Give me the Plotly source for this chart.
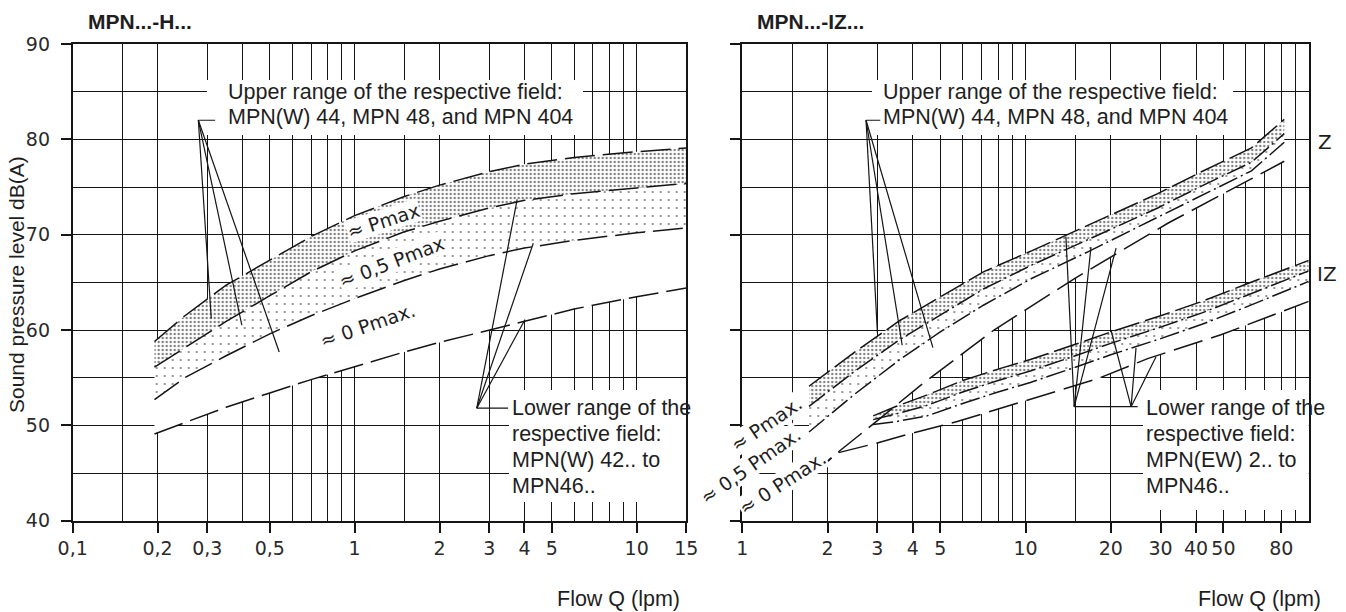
import numpy as np
import plotly.graph_objects as go

W, H = 1346, 612

# ---------------- data ----------------
# Left panel: MPN...-H...   (flow in lpm, sound level in dB(A))
q_h = [0.195, 0.25, 0.35, 0.5, 0.7, 1, 1.5, 2, 3, 4, 6, 10, 15]
h_pmax_top = [58.8, 61.5, 64.7, 67.3, 69.8, 72.0, 74.0, 75.2, 76.6, 77.4, 78.1, 78.7, 79.1]
h_pmax_low = [56.1, 58.1, 60.9, 63.6, 66.1, 68.3, 70.3, 71.4, 72.8, 73.6, 74.3, 74.9, 75.4]
h_half_low = [52.7, 55.0, 57.3, 59.6, 61.5, 63.3, 65.2, 66.4, 67.8, 68.6, 69.4, 70.2, 70.7]
h_zero_low = [49.1, 50.3, 51.9, 53.4, 54.8, 56.15, 57.7, 58.7, 60.0, 60.9, 62.2, 63.5, 64.4]

# Right panel: MPN...-IZ...  -> Z group
q_z = [1.72, 2.5, 3.6, 5, 7.1, 10.5, 16.6, 29.3, 41.8, 62.8, 82]
z_pmax_top = [54.1, 57.7, 61.0, 63.5, 66.1, 68.3, 71.0, 74.3, 76.6, 79.1, 82.1]
z_pmax_low = [52.0, 55.7, 59.0, 61.6, 64.3, 66.8, 69.5, 72.8, 75.1, 77.6, 80.6]
z_half_low = [49.3, 53.3, 56.9, 59.8, 62.6, 65.4, 68.2, 71.8, 74.1, 76.7, 79.7]
q_z0 = [1.72, 2.16, 3.0, 4.26, 7.74, 10, 14.9, 31.8, 64.5, 82]
z_zero_low = [44.5, 47.1, 50.5, 54.2, 60.0, 62.1, 65.4, 71.2, 76.1, 77.7]

# Right panel -> IZ group
q_iz = [2.9, 3.5, 4.5, 6, 8, 10.4, 15, 20, 30, 42, 60, 100]
iz_pmax_top = [51.0, 52.0, 53.2, 54.7, 55.9, 56.9, 58.5, 59.8, 61.5, 63.0, 64.8, 67.3]
iz_pmax_low = [50.6, 51.2, 52.1, 53.5, 54.7, 55.7, 57.3, 58.6, 60.3, 61.8, 63.6, 66.2]
iz_half_low = [50.1, 50.4, 51.0, 52.3, 53.5, 54.5, 56.1, 57.4, 59.1, 60.6, 62.4, 65.1]
q_iz0 = [1.72, 2.16, 2.95, 4.0, 5.74, 8.87, 10.4, 18, 27, 49, 100]
iz_zero_low = [44.5, 47.1, 48.1, 49.2, 50.4, 52.1, 52.7, 54.9, 57.0, 59.5, 63.0]

# leader lines (origin -> tips), data coordinates
lead_hu_origin = (0.279, 82.0); lead_hu_stub = 0.32
lead_hu_tips_q = [0.310, 0.398, 0.540]; lead_hu_tips_db = [61.2, 60.5, 57.7]
lead_hl_origin = (2.71, 51.8); lead_hl_stub = 3.50
lead_hl_tips_q = [3.77, 4.30, 4.02]; lead_hl_tips_db = [73.7, 69.1, 61.1]
lead_zu_origin = (2.735, 82.0); lead_zu_stub = 3.07
lead_zu_tips_q = [3.0, 3.67, 4.71]; lead_zu_tips_db = [59.7, 58.4, 58.15]
lead_zl_origin = (14.86, 51.96); lead_zl_stub = 24.9
lead_zl_tips_q = [13.89, 17.03, 20.89]; lead_zl_tips_db = [69.8, 68.7, 68.6]
lead_il_origin = (23.6, 51.96)
lead_il_tips_q = [20.03, 24.56, 28.9]; lead_il_tips_db = [60.0, 58.1, 57.2]

# axes ticks
y_major = [40, 50, 60, 70, 80, 90]
y_minor = [45, 55, 65, 75, 85]
xl_major = [0.1, 0.2, 0.3, 0.5, 1, 2, 3, 4, 5, 10, 15]
xl_labels = ["0,1", "0,2", "0,3", "0,5", "1", "2", "3", "4", "5", "10", "15"]
xl_minor = [0.15, 0.4, 0.6, 0.7, 0.8, 0.9, 1.5, 6, 7, 8, 9]
xr_major = [1, 2, 3, 4, 5, 10, 20, 30, 40, 50, 80]
xr_labels = ["1", "2", "3", "4", "5", "10", "20", "30", "40", "50", "80"]
xr_minor = [1.5, 6, 7, 8, 9, 15, 60, 70, 90]

# ---------------- helpers ----------------
XL = (72.7, 686.3)
XR = (742.3, 1308.7)
YP = (520.7, 44.0)
XL_LOG = (np.log10(0.1), np.log10(15))
XR_LOG = (0.0, 2.0)


def fx(px):
    return px / W


def fy(py):
    return 1 - py / H


def px_to_q(px, dom, lg):
    return 10 ** (lg[0] + (px - dom[0]) / (dom[1] - dom[0]) * (lg[1] - lg[0]))


def py_to_db(py):
    return 40 + (YP[0] - py) / (YP[0] - YP[1]) * 50


INK = "#151515"
TXT = "#1e1e1e"
dense = dict(shape=".", size=4, solidity=0.27, fgcolor="#000", bgcolor="white")
sparse = dict(shape=".", size=8, solidity=0.055, fgcolor="#000", bgcolor="white")

fig = go.Figure()


def fill_chain(xa, ya, base_x, base_y, bands):
    fig.add_trace(go.Scatter(x=base_x, y=base_y, mode="lines", line=dict(width=0),
                             xaxis=xa, yaxis=ya, hoverinfo="skip", showlegend=False))
    for bx, by, kind in bands:
        kw = dict(fill="tonexty", fillcolor="white")
        if kind != "white":
            kw["fillpattern"] = kind
        fig.add_trace(go.Scatter(x=bx, y=by, mode="lines", line=dict(width=0),
                                 xaxis=xa, yaxis=ya, hoverinfo="skip", showlegend=False, **kw))


def curve(xa, ya, x, y, dash="30px,8px", width=1.5):
    fig.add_trace(go.Scatter(x=x, y=y, mode="lines", line=dict(color=INK, width=width, dash=dash),
                             xaxis=xa, yaxis=ya, hoverinfo="skip", showlegend=False))


def leaders(xa, ya, origin, tips_q, tips_db, stub=None):
    xs, ys = [], []
    for tq, td in zip(tips_q, tips_db):
        xs += [origin[0], tq, None]
        ys += [origin[1], td, None]
    if stub is not None:
        xs += [origin[0], stub, None]
        ys += [origin[1], origin[1], None]
    fig.add_trace(go.Scatter(x=xs, y=ys, mode="lines", line=dict(color=INK, width=1.2),
                             xaxis=xa, yaxis=ya, hoverinfo="skip", showlegend=False))


# left panel fills
fill_chain("x", "y", q_h, h_zero_low,
           [(q_h, h_half_low, "white"), (q_h, h_pmax_low, sparse), (q_h, h_pmax_top, dense)])
# right panel fills
fill_chain("x2", "y2", q_z0, z_zero_low,
           [(q_z, z_half_low, "white"), (q_z, z_pmax_low, sparse), (q_z, z_pmax_top, dense)])
fill_chain("x2", "y2", q_iz0, iz_zero_low,
           [(q_iz, iz_half_low, "white"), (q_iz, iz_pmax_low, sparse), (q_iz, iz_pmax_top, dense)])

# curves
for yv in (h_pmax_top, h_pmax_low, h_half_low, h_zero_low):
    curve("x", "y", q_h, yv)
curve("x2", "y2", q_z, z_pmax_top, dash="26px,6px")
curve("x2", "y2", q_z, z_pmax_low, dash="20px,4px,2px,4px")
curve("x2", "y2", q_z, z_half_low, dash="20px,4px,2px,4px")
curve("x2", "y2", q_z0, z_zero_low, dash="30px,9px")
curve("x2", "y2", q_iz, iz_pmax_top, dash="26px,6px")
curve("x2", "y2", q_iz, iz_pmax_low, dash="20px,4px,2px,4px")
curve("x2", "y2", q_iz, iz_half_low, dash="20px,4px,2px,4px")
curve("x2", "y2", q_iz0, iz_zero_low, dash="30px,9px")

# leader lines
leaders("x", "y", lead_hu_origin, lead_hu_tips_q, lead_hu_tips_db, lead_hu_stub)
leaders("x", "y", lead_hl_origin, lead_hl_tips_q, lead_hl_tips_db, lead_hl_stub)
leaders("x2", "y2", lead_zu_origin, lead_zu_tips_q, lead_zu_tips_db, lead_zu_stub)
leaders("x2", "y2", lead_zl_origin, lead_zl_tips_q, lead_zl_tips_db, lead_zl_stub)
leaders("x2", "y2", lead_il_origin, lead_il_tips_q, lead_il_tips_db)

# ---------------- layout ----------------
tickfont = dict(family="DejaVu Sans", size=19, color="#2a2a2a")


def xaxis(dom, rng, major, labels, minor, anchor):
    return dict(type="log", range=list(rng), domain=[fx(dom[0]), fx(dom[1])], anchor=anchor,
                tickmode="array", tickvals=major, ticktext=labels, tickangle=0,
                ticks="outside", ticklen=10, tickwidth=1.5, tickcolor=INK,
                showgrid=True, gridcolor=INK, gridwidth=1.3,
                minor=dict(tickmode="array", tickvals=minor, showgrid=True,
                           gridcolor=INK, gridwidth=1.3, ticks=""),
                showline=True, linecolor=INK, linewidth=1.8, mirror=True,
                zeroline=False, tickfont=tickfont, ticklabelstandoff=0, automargin=False)


def yaxis(anchor, labels):
    return dict(range=[40, 90], domain=[fy(YP[0]), fy(YP[1])], anchor=anchor,
                tickmode="array", tickvals=y_major, ticktext=[str(v) for v in y_major],
                showticklabels=labels,
                ticks="outside", ticklen=10, tickwidth=1.5, tickcolor=INK,
                showgrid=True, gridcolor=INK, gridwidth=1.3,
                minor=dict(tickmode="array", tickvals=y_minor, showgrid=True,
                           gridcolor=INK, gridwidth=1.3, ticks=""),
                showline=True, linecolor=INK, linewidth=1.8, mirror=True,
                zeroline=False, tickfont=tickfont, ticklabelstandoff=7, automargin=False)


fig.update_layout(
    width=W, height=H, margin=dict(l=0, r=0, t=0, b=0, pad=0),
    paper_bgcolor="white", plot_bgcolor="white", showlegend=False,
    xaxis=xaxis(XL, XL_LOG, xl_major, xl_labels, xl_minor, "y"),
    yaxis=yaxis("x", True),
    xaxis2=xaxis(XR, XR_LOG, xr_major, xr_labels, xr_minor, "y2"),
    yaxis2=yaxis("x2", False),
)


# white knock-out boxes behind the callout texts (between grid and traces)
def box(xa, ya, dom_x, lg, px0, px1, py0, py1):
    fig.add_shape(type="rect", xref=xa, yref=ya, layer="between",
                  x0=px_to_q(px0, dom_x, lg), x1=px_to_q(px1, dom_x, lg),
                  y0=py_to_db(py1), y1=py_to_db(py0),
                  fillcolor="white", line=dict(width=0))


box("x", "y", XL, XL_LOG, 207, 583, 80, 135)
box("x", "y", XL, XL_LOG, 509, 700, 390, 502)
box("x2", "y2", XR, XR_LOG, 872, 1233, 80, 135)
box("x2", "y2", XR, XR_LOG, 1143, 1320, 390, 510)

ann = []


def text(s, px, py, size=21.5, family="Liberation Sans", xanchor="left", angle=0, bg=None, color=TXT):
    d = dict(text=s, x=fx(px), y=fy(py), xref="paper", yref="paper", showarrow=False,
             xanchor=xanchor, yanchor="middle", textangle=angle,
             font=dict(family=family, size=size, color=color))
    if bg:
        d.update(bgcolor=bg, borderpad=0)
    ann.append(d)


upper_lines = ["Upper range of the respective field:", "MPN(W) 44, MPN 48, and MPN 404"]
for s, py in zip(upper_lines, [92, 117]):
    text(s, 225.5, py)
    text(s, 880.5, py)
lower_h = ["Lower range of the", "respective field:", "MPN(W) 42.. to", "MPN46.."]
lower_iz = ["Lower range of the", "respective field:", "MPN(EW) 2.. to", "MPN46.."]
for s1, s2, py in zip(lower_h, lower_iz, [408.3, 434, 460, 485.5]):
    text(s1, 510, py)
    text(s2, 1144, py)

text("<b>MPN...-H...</b>", 86, 22, size=21)
text("<b>MPN...-IZ...</b>", 755, 22, size=21)
text("Sound pressure level dB(A)", 16, 285, size=21, xanchor="center", angle=-90)
text("Flow Q (lpm)", 618.5, 599, xanchor="center")
text("Flow Q (lpm)", 1259, 599, xanchor="center")
text("Z", 1325, 142, size=20, family="DejaVu Sans", xanchor="center")
text("IZ", 1327, 274, size=20, family="DejaVu Sans", xanchor="center")

field_labels = [
    ("≈ Pmax", 383, 221, -18),
    ("≈ 0,5 Pmax", 391, 262, -21),
    ("≈ 0 Pmax.", 368, 325, -19),
    ("≈ Pmax.", 766, 424, -34),
    ("≈ 0,5 Pmax.", 750, 466, -35),
    ("≈ 0 Pmax.", 782, 483, -33),
]
for s, px, py, a in field_labels:
    text(s, px, py, size=19, family="DejaVu Sans", xanchor="center", angle=a, bg="white")

fig.update_layout(annotations=ann)
fig.write_html("out.html", config={"displayModeBar": False},
               post_script="document.body.style.margin='0';")
